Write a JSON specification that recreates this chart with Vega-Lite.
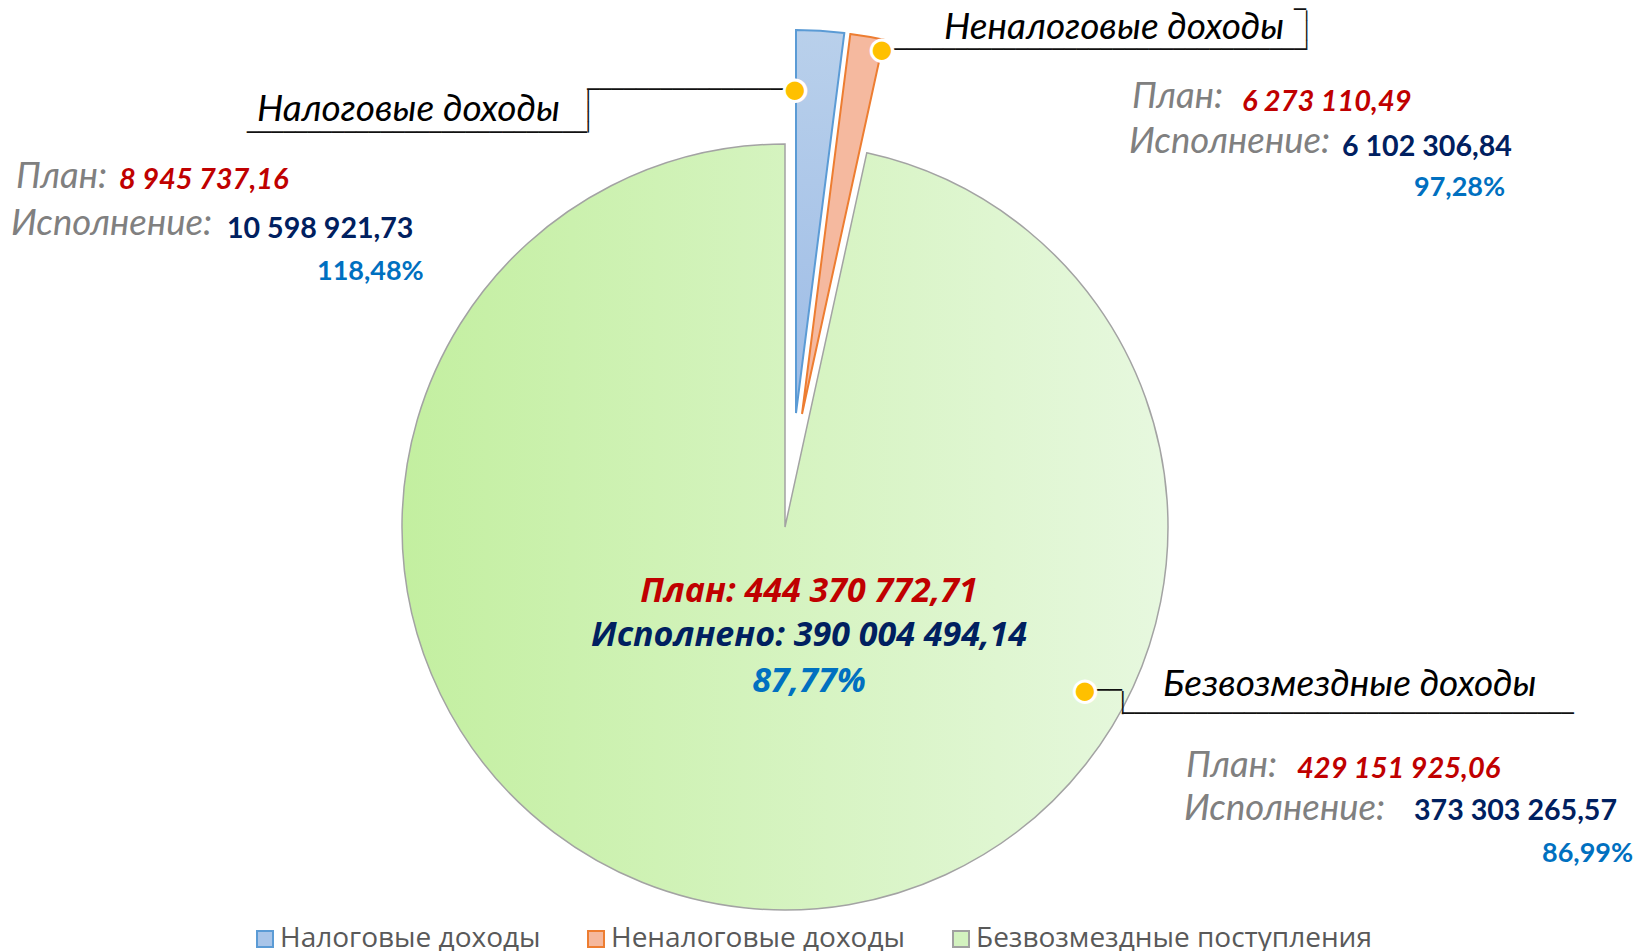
{
  "$schema": "https://vega.github.io/schema/vega-lite/v6.json",
  "width": 1570,
  "height": 848,
  "autosize": {"type": "none"},
  "padding": {"left": 0, "top": 103, "right": 66, "bottom": 0},
  "background": "#ffffff",
  "config": {
    "view": {"stroke": null},
    "locale": {"number": {"decimal": ",", "thousands": " ", "grouping": [3], "currency": ["", ""]}},
    "legend": {"symbolOpacity": 1}
  },
  "datasets": {
    "parts": [
      {"ord": 1, "cat": "Налоговые доходы", "label": "Налоговые доходы", "plan": 8945737.16, "exec": 10598921.73, "pct": 1.1848},
      {"ord": 2, "cat": "Неналоговые доходы", "label": "Неналоговые доходы", "plan": 6273110.49, "exec": 6102306.84, "pct": 0.9728},
      {"ord": 3, "cat": "Безвозмездные поступления", "label": "Безвозмездные доходы", "plan": 429151925.06, "exec": 373303265.57, "pct": 0.8699}
    ],
    "total": [
      {"plan": 444370772.71, "exec": 390004494.14, "pct": 0.8777}
    ]
  },
  "data": {"name": "parts"},
  "layer": [
    {
      "mark": {"type": "point", "shape": "square", "filled": true, "opacity": 0},
      "encoding": {
        "fill": {"field": "cat", "type": "nominal",
          "scale": {"domain": ["Налоговые доходы", "Неналоговые доходы", "Безвозмездные поступления"], "range": ["#a9c5e9", "#f5b89d", "#d3f2bf"]},
          "legend": {"title": null, "orient": "none", "direction": "horizontal", "legendX": 251, "legendY": 822,
            "symbolType": "square", "symbolSize": 256, "symbolStrokeWidth": 2,
            "labelFont": "Open Sans", "labelFontSize": 28, "labelColor": "#595959", "labelOffset": 1, "columnPadding": 41, "labelLimit": 600}},
        "stroke": {"field": "cat", "type": "nominal",
          "scale": {"domain": ["Налоговые доходы", "Неналоговые доходы", "Безвозмездные поступления"], "range": ["#5b9bd5", "#ed7d31", "#a0a0a0"]},
          "legend": {"title": null, "orient": "none", "direction": "horizontal", "legendX": 251, "legendY": 822,
            "symbolType": "square", "symbolSize": 256, "symbolStrokeWidth": 2,
            "labelFont": "Open Sans", "labelFontSize": 28, "labelColor": "#595959", "labelOffset": 1, "columnPadding": 41, "labelLimit": 600}}
      }
    },
    {
      "transform": [
        {"stack": "plan", "groupby": [], "sort": [{"field": "ord"}], "as": ["t0", "t1"]},
        {"filter": "datum.ord == 3"}
      ],
      "mark": {"type": "arc", "outerRadius": 383, "stroke": "#a3a3a3", "strokeWidth": 1.5,
        "fill": {"gradient": "linear", "x1": 0, "y1": 0, "x2": 1, "y2": 0,
          "stops": [{"offset": 0, "color": "#c3efa0"}, {"offset": 1, "color": "#e7f8df"}]}},
      "encoding": {
        "theta": {"field": "t0", "type": "quantitative", "scale": {"domain": [0, 444370772.71], "zero": false}},
        "theta2": {"field": "t1"}
      }
    },
    {
      "transform": [
        {"stack": "plan", "groupby": [], "sort": [{"field": "ord"}], "as": ["t0", "t1"]},
        {"filter": "datum.ord == 1"}
      ],
      "mark": {"type": "arc", "outerRadius": 383, "stroke": "#5b9bd5", "strokeWidth": 2, "xOffset": 11, "yOffset": -114,
        "fill": {"gradient": "linear", "x1": 0, "y1": 0, "x2": 0, "y2": 1,
          "stops": [{"offset": 0, "color": "#b9d0eb"}, {"offset": 1, "color": "#9dbce6"}]}},
      "encoding": {
        "theta": {"field": "t0", "type": "quantitative", "scale": {"domain": [0, 444370772.71], "zero": false}},
        "theta2": {"field": "t1"}
      }
    },
    {
      "transform": [
        {"stack": "plan", "groupby": [], "sort": [{"field": "ord"}], "as": ["t0", "t1"]},
        {"filter": "datum.ord == 2"}
      ],
      "mark": {"type": "arc", "outerRadius": 383, "stroke": "#ed7d31", "strokeWidth": 2, "xOffset": 17, "yOffset": -113, "fill": "#f5b99f"},
      "encoding": {
        "theta": {"field": "t0", "type": "quantitative", "scale": {"domain": [0, 444370772.71], "zero": false}},
        "theta2": {"field": "t1"}
      }
    },

    {"data": {"name": "total"}, "mark": {"type": "text", "text": "─────────────────", "font": "DejaVu Sans", "fontSize": 20.3, "color": "#111111", "align": "left", "baseline": "middle", "dx": -198, "dy": -437}},
    {"data": {"name": "total"}, "mark": {"type": "text", "text": "────", "font": "DejaVu Sans", "fontSize": 17.6, "color": "#111111", "align": "center", "baseline": "middle", "angle": 90, "dx": -415.75, "dy": 198}},
    {"data": {"name": "total"}, "mark": {"type": "text", "text": "────────────────────────────", "font": "DejaVu Sans", "fontSize": 20.2, "color": "#111111", "align": "right", "baseline": "middle", "dx": -198, "dy": -394.5}},

    {"data": {"name": "total"}, "mark": {"type": "text", "text": "───────────────────────────────────", "font": "DejaVu Sans", "fontSize": 20.1, "color": "#111111", "align": "right", "baseline": "middle", "dx": 521, "dy": -477}},
    {"data": {"name": "total"}, "mark": {"type": "text", "text": "────", "font": "DejaVu Sans", "fontSize": 16.4, "color": "#111111", "align": "center", "baseline": "middle", "angle": 90, "dx": -496.8, "dy": -521}},
    {"data": {"name": "total"}, "mark": {"type": "text", "text": "─", "font": "DejaVu Sans", "fontSize": 20, "color": "#111111", "align": "right", "baseline": "middle", "dx": 521, "dy": -516.6}},

    {"data": {"name": "total"}, "mark": {"type": "text", "text": "───", "font": "DejaVu Sans", "fontSize": 21, "color": "#111111", "align": "right", "baseline": "middle", "dx": 337, "dy": 164}},
    {"data": {"name": "total"}, "mark": {"type": "text", "text": "──", "font": "DejaVu Sans", "fontSize": 19, "color": "#111111", "align": "center", "baseline": "middle", "angle": 90, "dx": 175.5, "dy": -337}},
    {"data": {"name": "total"}, "mark": {"type": "text", "text": "─────────────────────────────────────", "font": "DejaVu Sans", "fontSize": 20.3, "color": "#111111", "align": "left", "baseline": "middle", "dx": 337, "dy": 187}},

    {"data": {"name": "total"}, "mark": {"type": "text", "text": "●", "font": "DejaVu Sans", "fontSize": 28, "color": "#ffc000", "stroke": "#ffffff", "strokeWidth": 3, "align": "center", "baseline": "middle", "dx": 10, "dy": -437}},
    {"data": {"name": "total"}, "mark": {"type": "text", "text": "●", "font": "DejaVu Sans", "fontSize": 28, "color": "#ffc000", "stroke": "#ffffff", "strokeWidth": 3, "align": "center", "baseline": "middle", "dx": 97, "dy": -477}},
    {"data": {"name": "total"}, "mark": {"type": "text", "text": "●", "font": "DejaVu Sans", "fontSize": 28, "color": "#ffc000", "stroke": "#ffffff", "strokeWidth": 3, "align": "center", "baseline": "middle", "dx": 300, "dy": 164}},

    {"transform": [{"filter": "datum.ord == 1"}], "mark": {"type": "text", "font": "Lato", "fontStyle": "italic", "fontSize": 37, "color": "#000000", "align": "left", "baseline": "alphabetic", "dx": -528, "dy": -406}, "encoding": {"text": {"field": "label"}}},
    {"transform": [{"filter": "datum.ord == 1"}], "mark": {"type": "text", "text": "План:", "font": "Lato", "fontStyle": "italic", "fontSize": 36.5, "color": "#808080", "align": "left", "baseline": "alphabetic", "dx": -769, "dy": -339}},
    {"transform": [{"filter": "datum.ord == 1"}], "mark": {"type": "text", "font": "Lato", "fontStyle": "italic", "fontWeight": "bold", "fontSize": 29, "color": "#c00000", "align": "left", "baseline": "alphabetic", "dx": -666, "dy": -338}, "encoding": {"text": {"field": "plan", "type": "quantitative", "format": ",.2f"}}},
    {"transform": [{"filter": "datum.ord == 1"}], "mark": {"type": "text", "text": "Исполнение:", "font": "Lato", "fontStyle": "italic", "fontSize": 36.5, "color": "#808080", "align": "left", "baseline": "alphabetic", "dx": -774, "dy": -292}},
    {"transform": [{"filter": "datum.ord == 1"}], "mark": {"type": "text", "font": "Lato", "fontWeight": "bold", "fontSize": 28.6, "color": "#002060", "align": "left", "baseline": "alphabetic", "dx": -558, "dy": -289}, "encoding": {"text": {"field": "exec", "type": "quantitative", "format": ",.2f"}}},
    {"transform": [{"filter": "datum.ord == 1"}], "mark": {"type": "text", "font": "Lato", "fontWeight": "bold", "fontSize": 27, "color": "#0070c0", "align": "left", "baseline": "alphabetic", "dx": -468, "dy": -247}, "encoding": {"text": {"field": "pct", "type": "quantitative", "format": ".2%"}}},

    {"transform": [{"filter": "datum.ord == 2"}], "mark": {"type": "text", "font": "Lato", "fontStyle": "italic", "fontSize": 37, "color": "#000000", "align": "left", "baseline": "alphabetic", "dx": 159, "dy": -488}, "encoding": {"text": {"field": "label"}}},
    {"transform": [{"filter": "datum.ord == 2"}], "mark": {"type": "text", "text": "План:", "font": "Lato", "fontStyle": "italic", "fontSize": 36.5, "color": "#808080", "align": "left", "baseline": "alphabetic", "dx": 347, "dy": -419.5}},
    {"transform": [{"filter": "datum.ord == 2"}], "mark": {"type": "text", "font": "Lato", "fontStyle": "italic", "fontWeight": "bold", "fontSize": 29, "color": "#c00000", "align": "left", "baseline": "alphabetic", "dx": 457, "dy": -416}, "encoding": {"text": {"field": "plan", "type": "quantitative", "format": ",.2f"}}},
    {"transform": [{"filter": "datum.ord == 2"}], "mark": {"type": "text", "text": "Исполнение:", "font": "Lato", "fontStyle": "italic", "fontSize": 36.5, "color": "#808080", "align": "left", "baseline": "alphabetic", "dx": 344, "dy": -374}},
    {"transform": [{"filter": "datum.ord == 2"}], "mark": {"type": "text", "font": "Lato", "fontWeight": "bold", "fontSize": 28.6, "color": "#002060", "align": "left", "baseline": "alphabetic", "dx": 557, "dy": -371.5}, "encoding": {"text": {"field": "exec", "type": "quantitative", "format": ",.2f"}}},
    {"transform": [{"filter": "datum.ord == 2"}], "mark": {"type": "text", "font": "Lato", "fontWeight": "bold", "fontSize": 27, "color": "#0070c0", "align": "left", "baseline": "alphabetic", "dx": 629, "dy": -331}, "encoding": {"text": {"field": "pct", "type": "quantitative", "format": ".2%"}}},

    {"transform": [{"filter": "datum.ord == 3"}], "mark": {"type": "text", "font": "Lato", "fontStyle": "italic", "fontSize": 37, "color": "#000000", "align": "left", "baseline": "alphabetic", "dx": 378, "dy": 169}, "encoding": {"text": {"field": "label"}}},
    {"transform": [{"filter": "datum.ord == 3"}], "mark": {"type": "text", "text": "План:", "font": "Lato", "fontStyle": "italic", "fontSize": 36.5, "color": "#808080", "align": "left", "baseline": "alphabetic", "dx": 401, "dy": 250}},
    {"transform": [{"filter": "datum.ord == 3"}], "mark": {"type": "text", "font": "Lato", "fontStyle": "italic", "fontWeight": "bold", "fontSize": 29, "color": "#c00000", "align": "left", "baseline": "alphabetic", "dx": 512, "dy": 251}, "encoding": {"text": {"field": "plan", "type": "quantitative", "format": ",.2f"}}},
    {"transform": [{"filter": "datum.ord == 3"}], "mark": {"type": "text", "text": "Исполнение:", "font": "Lato", "fontStyle": "italic", "fontSize": 36.5, "color": "#808080", "align": "left", "baseline": "alphabetic", "dx": 399, "dy": 293}},
    {"transform": [{"filter": "datum.ord == 3"}], "mark": {"type": "text", "font": "Lato", "fontWeight": "bold", "fontSize": 28.6, "color": "#002060", "align": "left", "baseline": "alphabetic", "dx": 629, "dy": 293}, "encoding": {"text": {"field": "exec", "type": "quantitative", "format": ",.2f"}}},
    {"transform": [{"filter": "datum.ord == 3"}], "mark": {"type": "text", "font": "Lato", "fontWeight": "bold", "fontSize": 27, "color": "#0070c0", "align": "left", "baseline": "alphabetic", "dx": 757, "dy": 335}, "encoding": {"text": {"field": "pct", "type": "quantitative", "format": ".2%"}}},

    {"data": {"name": "total"}, "transform": [{"calculate": "'План: ' + format(datum.plan, ',.2f')", "as": "lab"}], "mark": {"type": "text", "font": "Open Sans", "fontStyle": "italic", "fontWeight": "bold", "fontSize": 34, "color": "#c00000", "align": "center", "baseline": "alphabetic", "dx": 24, "dy": 75}, "encoding": {"text": {"field": "lab"}}},
    {"data": {"name": "total"}, "transform": [{"calculate": "'Исполнено: ' + format(datum.exec, ',.2f')", "as": "lab"}], "mark": {"type": "text", "font": "Open Sans", "fontStyle": "italic", "fontWeight": "bold", "fontSize": 34, "color": "#002060", "align": "center", "baseline": "alphabetic", "dx": 24, "dy": 119}, "encoding": {"text": {"field": "lab"}}},
    {"data": {"name": "total"}, "mark": {"type": "text", "font": "Open Sans", "fontStyle": "italic", "fontWeight": "bold", "fontSize": 34, "color": "#0070c0", "align": "center", "baseline": "alphabetic", "dx": 24, "dy": 165}, "encoding": {"text": {"field": "pct", "type": "quantitative", "format": ".2%"}}}
  ]
}
